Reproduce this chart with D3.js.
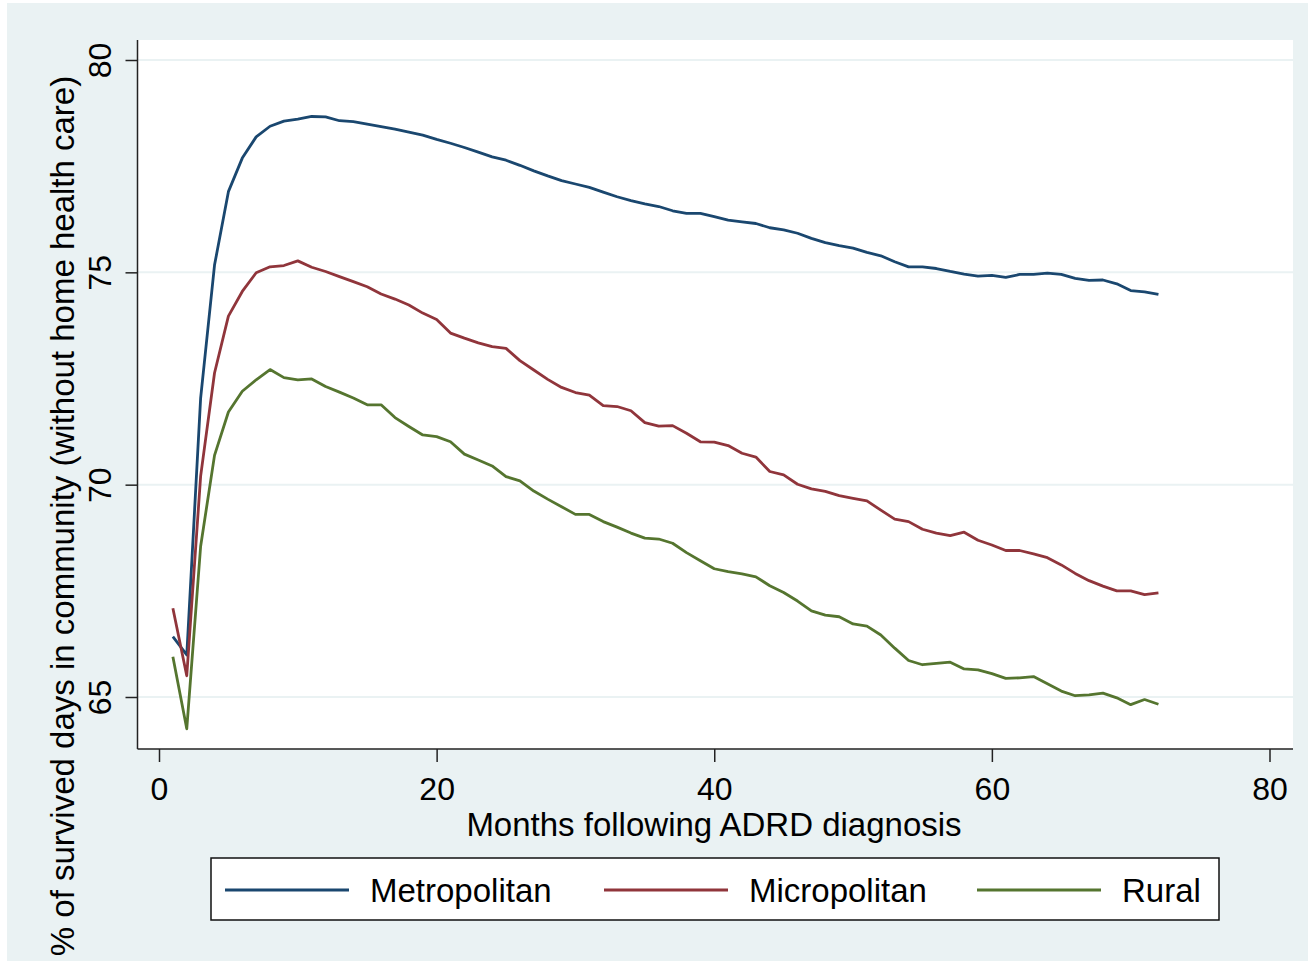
<!DOCTYPE html>
<html>
<head>
<meta charset="utf-8">
<script src="https://cdn.jsdelivr.net/npm/d3@7"></script>
<style>
  body { margin: 0; background: #fff; }
  text { font-family: Arial, "Liberation Sans", sans-serif; fill: #000; }
</style>
</head>
<body>
<div id="viz"></div>
<script>
// Data
const months = d3.range(1, 73);
const metro = [66.42, 65.99, 72.04, 75.17, 76.90, 77.69, 78.19, 78.44, 78.56, 78.61,
  78.67, 78.66, 78.57, 78.55, 78.49, 78.43, 78.37, 78.30, 78.23, 78.13,
  78.04, 77.94, 77.83, 77.72, 77.64, 77.52, 77.39, 77.27, 77.16, 77.08,
  77.00, 76.89, 76.78, 76.69, 76.61, 76.55, 76.45, 76.39, 76.39, 76.31,
  76.23, 76.19, 76.15, 76.05, 76.00, 75.92, 75.80, 75.70, 75.63, 75.57,
  75.47, 75.39, 75.25, 75.13, 75.13, 75.09, 75.02, 74.96, 74.91, 74.93,
  74.88, 74.95, 74.95, 74.98, 74.95, 74.86, 74.81, 74.82, 74.73, 74.57, 74.54, 74.48];
const micro = [67.09, 65.50, 70.20, 72.63, 73.97, 74.55, 74.99, 75.13, 75.16, 75.27,
  75.12, 75.02, 74.90, 74.78, 74.66, 74.49, 74.37, 74.23, 74.04, 73.89,
  73.57, 73.45, 73.34, 73.25, 73.21, 72.92, 72.70, 72.48, 72.29, 72.17,
  72.11, 71.86, 71.84, 71.74, 71.46, 71.38, 71.39, 71.21, 71.01, 71.00,
  70.92, 70.74, 70.65, 70.31, 70.23, 70.01, 69.90, 69.84, 69.74, 69.68,
  69.62, 69.40, 69.19, 69.13, 68.95, 68.86, 68.80, 68.88, 68.69, 68.58,
  68.45, 68.45, 68.37, 68.28, 68.11, 67.91, 67.74, 67.61, 67.50, 67.50, 67.41, 67.45];
const rural = [65.95, 64.25, 68.55, 70.69, 71.71, 72.20, 72.47, 72.71, 72.52, 72.47,
  72.49, 72.31, 72.18, 72.04, 71.88, 71.88, 71.58, 71.37, 71.17, 71.13,
  71.01, 70.72, 70.58, 70.44, 70.19, 70.09, 69.85, 69.66, 69.48, 69.30,
  69.30, 69.13, 69.00, 68.86, 68.74, 68.72, 68.62, 68.40, 68.21, 68.02,
  67.95, 67.90, 67.83, 67.62, 67.46, 67.26, 67.03, 66.93, 66.89, 66.72,
  66.67, 66.46, 66.15, 65.86, 65.76, 65.79, 65.82, 65.66, 65.64, 65.55,
  65.44, 65.45, 65.48, 65.31, 65.14, 65.03, 65.05, 65.09, 64.98, 64.82, 64.94, 64.83];
const seriesNames = ["Metropolitan", "Micropolitan", "Rural"];
const seriesColors = ["#1a476f", "#90353b", "#55752f"];
const xTicks = [0, 20, 40, 60, 80];
const yTicks = [65, 70, 75, 80];

const width = 1308, height = 961;
const plot = {left: 137.5, right: 1293, top: 40, bottom: 749};

const svg = d3.select("#viz").append("svg").attr("width", width).attr("height", height);

// graph region
svg.append("rect").attr("x", 7).attr("y", 3).attr("width", width - 7).attr("height", height - 3)
  .attr("fill", "#eaf2f3");
svg.append("rect").attr("x", plot.left).attr("y", plot.top)
  .attr("width", plot.right - plot.left).attr("height", plot.bottom - plot.top)
  .attr("fill", "#fff");

const x = d3.scaleLinear().domain([0, 80]).range([159, 1269.5]);
const y = d3.scaleLinear().domain([65, 80]).range([697, 60]);

// grid
svg.append("g").selectAll("line").data(yTicks).enter().append("line")
  .attr("x1", plot.left).attr("x2", plot.right)
  .attr("y1", d => y(d)).attr("y2", d => y(d))
  .attr("stroke", "#eaf2f3").attr("stroke-width", 2);

// lines
const line = d3.line().x((d, i) => x(months[i])).y(d => y(d));
[metro, micro, rural].forEach((s, k) => {
  svg.append("path").datum(s).attr("d", line)
    .attr("fill", "none").attr("stroke", seriesColors[k])
    .attr("stroke-width", 2.8).attr("stroke-linejoin", "round");
});

// axes
const xAxis = svg.append("g").attr("transform", `translate(0,${plot.bottom})`)
  .call(d3.axisBottom(x).tickValues(xTicks).tickSize(13).tickFormat(d3.format("d")));
xAxis.select(".domain").remove();
xAxis.selectAll("line").attr("stroke", "#222").attr("stroke-width", 1.5);
xAxis.selectAll("text").attr("y", 40).attr("dy", "0.35em").style("font-size", "32px")
  .attr("font-family", null);

const yAxis = svg.append("g").attr("transform", `translate(${plot.left},0)`)
  .call(d3.axisLeft(y).tickValues(yTicks).tickSize(12).tickFormat(d3.format("d")));
yAxis.select(".domain").remove();
yAxis.selectAll("line").attr("stroke", "#222").attr("stroke-width", 1.5);
yAxis.selectAll("text")
  .attr("x", null).attr("dy", "0.35em")
  .attr("text-anchor", "middle")
  .attr("transform", "translate(-38,0) rotate(-90)")
  .style("font-size", "32px");

svg.append("line").attr("x1", plot.left).attr("x2", plot.right)
  .attr("y1", plot.bottom).attr("y2", plot.bottom)
  .attr("stroke", "#222").attr("stroke-width", 1.5);
svg.append("line").attr("x1", plot.left).attr("x2", plot.left)
  .attr("y1", plot.top).attr("y2", plot.bottom)
  .attr("stroke", "#222").attr("stroke-width", 1.5);

// titles
svg.append("text").attr("x", 714).attr("y", 824).attr("dy", "0.35em")
  .attr("text-anchor", "middle").style("font-size", "33px")
  .text("Months following ADRD diagnosis");
svg.append("text").attr("transform", "translate(62,516) rotate(-90)").attr("dy", "0.35em")
  .attr("text-anchor", "middle").style("font-size", "33px")
  .text("% of survived days in community (without home health care)");

// legend
const legend = svg.append("g");
legend.append("rect").attr("x", 211).attr("y", 858).attr("width", 1008).attr("height", 62)
  .attr("fill", "#fff").attr("stroke", "#111").attr("stroke-width", 1.5);
const legX = [225, 604, 977];
seriesNames.forEach((n, k) => {
  legend.append("line").attr("x1", legX[k]).attr("x2", legX[k] + 124)
    .attr("y1", 890).attr("y2", 890)
    .attr("stroke", seriesColors[k]).attr("stroke-width", 2.8);
  legend.append("text").attr("x", legX[k] + 145).attr("y", 890).attr("dy", "0.35em")
    .style("font-size", "33px").text(n);
});
</script>
</body>
</html>
